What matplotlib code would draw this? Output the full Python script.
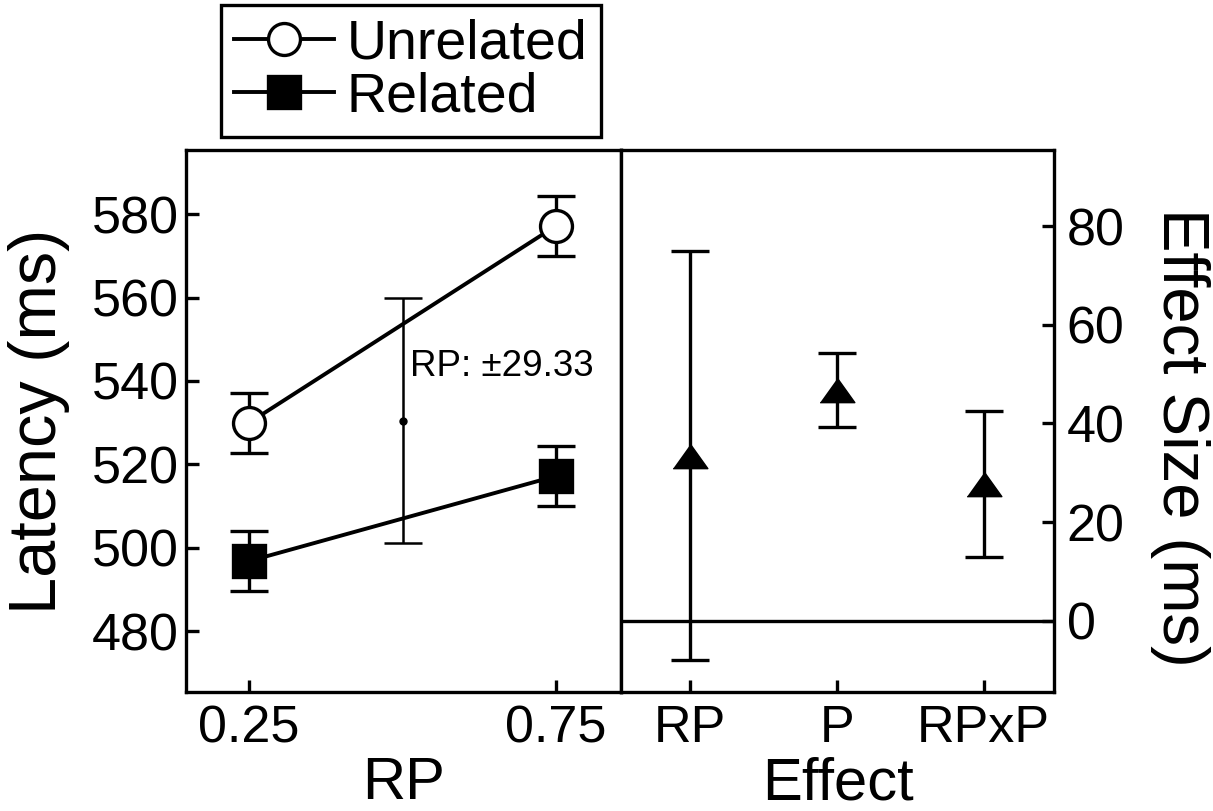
import numpy as np
import matplotlib
matplotlib.use("Agg")
import matplotlib.pyplot as plt

plt.rcParams['font.family'] = ['Liberation Sans', 'DejaVu Sans']

# left panel: latency by relatedness proportion
rp_levels = [0.25, 0.75]
unrelated = [530.0, 577.2]
related = [496.8, 517.2]
cond_err = [7.2, 7.2]
rp_ci_x = 0.5
rp_ci_center = 530.5
rp_ci_half = 29.33

# right panel: effect sizes
effects = ['RP', 'P', 'RPxP']
effect_vals = [33.5, 46.8, 27.8]
effect_err = [41.4, 7.5, 14.8]

lw = 2.4
ms = 23
cap = 14
# wide, flat triangle like the original
tri = [(-1, -0.7), (1, -0.7), (0, 0.7)]

fig = plt.figure(figsize=(12.13, 8.11), dpi=100)
ax1 = fig.add_axes([186/1213, 1 - 692/811, (621-186)/1213, (692-150)/811])
ax2 = fig.add_axes([621/1213, 1 - 692/811, (1054-621)/1213, (692-150)/811])

# left
ax1.errorbar(rp_levels, unrelated, yerr=cond_err, color='black', lw=lw + 0.4,
             marker='o', ms=ms, mfc='white', mec='black', mew=lw,
             capsize=cap, capthick=lw, elinewidth=lw, label='Unrelated', zorder=3)
ax1.errorbar(rp_levels, related, yerr=cond_err, color='black', lw=lw + 0.4,
             marker='s', ms=ms, mfc='black', mec='black', mew=lw,
             capsize=cap, capthick=lw, elinewidth=lw, label='Related', zorder=3)
ax1.errorbar([rp_ci_x], [rp_ci_center], yerr=[rp_ci_half], color='black',
             marker='o', ms=5, lw=0, capsize=cap, capthick=1.8, elinewidth=1.8)
ax1.text(rp_ci_x + 0.012, rp_ci_center + 13, 'RP: \u00b1%.2f' % rp_ci_half,
         fontsize=26.5, ha='left', va='center')

ax1.set_xlim(0.147, 0.856)
ax1.set_ylim(465.4, 595.4)
ax1.set_xticks(rp_levels)
ax1.set_xticklabels(['0.25', '0.75'])
ax1.set_yticks([480, 500, 520, 540, 560, 580])
ax1.tick_params(direction='in', length=9, width=lw, labelsize=37.5, pad=9)
ax1.tick_params(axis='y', pad=5)
ax1.set_xlabel('RP', fontsize=43, labelpad=2)
ax1.set_ylabel('Latency (ms)', fontsize=48, labelpad=16)

# right
xpos = np.arange(len(effects))
ax2.axhline(0, color='black', lw=lw)
ax2.errorbar(xpos, effect_vals, yerr=effect_err, color='black', lw=0,
             marker=tri, ms=ms + 2, mfc='black', mec='black',
             capsize=cap, capthick=lw, elinewidth=lw, zorder=3)
ax2.set_xlim(-0.47, 2.48)
ax2.set_ylim(-14.4, 95.4)
ax2.set_xticks(xpos)
ax2.set_xticklabels(effects)
ax2.set_yticks([0, 20, 40, 60, 80])
ax2.yaxis.tick_right()
ax2.yaxis.set_label_position('right')
ax2.tick_params(direction='in', length=9, width=lw, labelsize=37.5, pad=9)
ax2.tick_params(axis='y', left=False, right=True)
ax2.set_xlabel('Effect', fontsize=43, labelpad=2)
ax2.set_ylabel('Effect Size (ms)', fontsize=47, rotation=270, va='center')
ax2.yaxis.set_label_coords(1.29, 0.47)

for ax in (ax1, ax2):
    for s in ax.spines.values():
        s.set_linewidth(lw)

h, l = ax1.get_legend_handles_labels()
h = [hh[0] for hh in h]
leg = fig.legend(h, l, loc='upper left', bbox_to_anchor=(221/1213, 1 - 5/811),
                 fontsize=40, frameon=True, fancybox=False, borderaxespad=0,
                 handlelength=1.8, handletextpad=0.22, labelspacing=0.02,
                 borderpad=0.24)
leg.get_frame().set_edgecolor('black')
leg.get_frame().set_linewidth(lw)
leg.get_frame().set_alpha(1)

fig.savefig('out.png', dpi=100)
